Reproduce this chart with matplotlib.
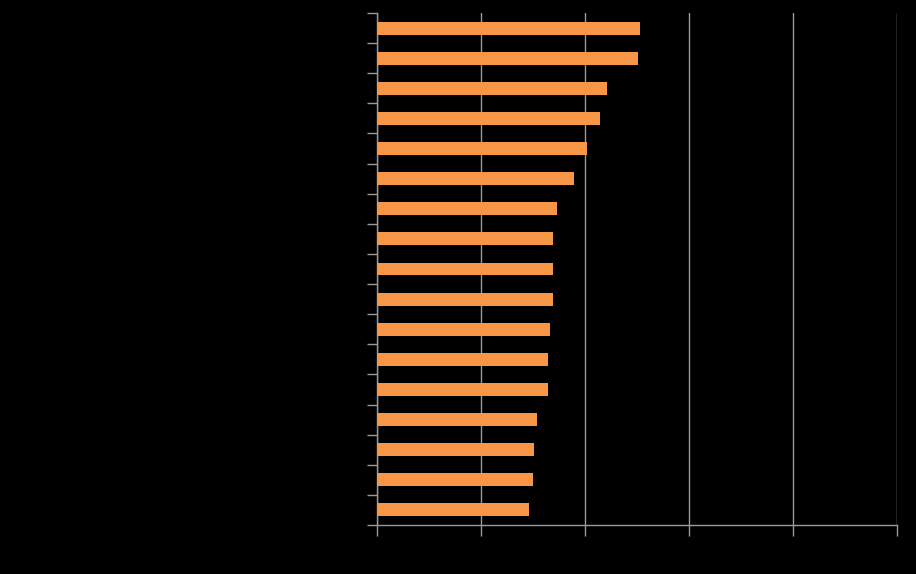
# Horizontal bar chart, orange bars on a black background.

import matplotlib
matplotlib.use("Agg")
import matplotlib.pyplot as plt
import numpy as np

# bar lengths, top to bottom (category labels are drawn black on black in the original)
values = [2.53, 2.51, 2.21, 2.145, 2.02, 1.895, 1.735, 1.695, 1.695, 1.69,
          1.665, 1.645, 1.645, 1.54, 1.51, 1.50, 1.465]
x_ticks = [0, 1, 2, 3, 4, 5]

BAR_COLOR = "#F79646"
GRID_COLOR = "#9a9a9a"


def main():
    fig = plt.figure(figsize=(9.16, 5.74), dpi=100, facecolor="black")
    ax = fig.add_axes([377 / 916, 1 - 525 / 574, 520 / 916, 512 / 574])
    ax.set_facecolor("black")

    n = len(values)
    pos = np.arange(n)
    ax.barh(pos, values, height=0.43, color=BAR_COLOR, zorder=3)

    ax.set_ylim(n - 0.5, -0.5)
    ax.set_xlim(x_ticks[0], x_ticks[-1])

    # y ticks sit on the band edges, not on the bars
    ax.set_yticks(np.arange(n + 1) - 0.5)
    ax.set_xticks(x_ticks)
    ax.tick_params(axis="y", colors=GRID_COLOR, length=7, width=1,
                   labelleft=False)
    ax.tick_params(axis="x", colors=GRID_COLOR, length=8, width=1,
                   labelbottom=False)

    ax.grid(axis="x", color=GRID_COLOR, linewidth=1, zorder=0)
    ax.grid(axis="y", visible=False)

    for side in ["top", "right"]:
        ax.spines[side].set_visible(False)
    for side in ["left", "bottom"]:
        ax.spines[side].set_color(GRID_COLOR)
        ax.spines[side].set_linewidth(1)

    fig.savefig("out.png", dpi=100, facecolor="black")


if __name__ == "__main__":
    main()
